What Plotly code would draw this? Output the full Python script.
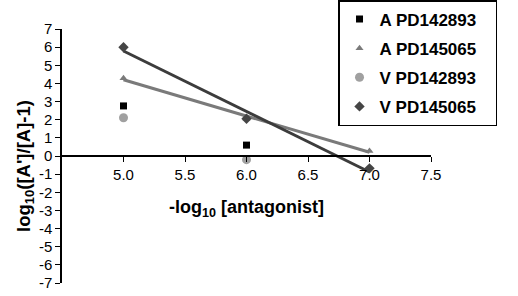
import numpy as np
import plotly.graph_objects as go

x_vals = [5.0, 6.0, 7.0]
a_pd142893_x = [5.0, 6.0]
a_pd142893_y = [2.76, 0.6]
v_pd142893_x = [5.0, 6.0]
v_pd142893_y = [2.11, -0.2]
a_pd145065_y = [4.28, 2.05, 0.28]
v_pd145065_y = [5.99, 2.05, -0.68]

y_ticks = list(range(-7, 8))
x_ticks = [5.0, 5.5, 6.0, 6.5, 7.0, 7.5]

FONT = "Arial, Liberation Sans, sans-serif"
PAD = "&nbsp;&nbsp;&nbsp;"

def fit(xs, ys):
    m, b = np.polyfit(xs, ys, 1)
    return [m * x + b for x in xs]

fig = go.Figure()

# regression lines
fig.add_trace(go.Scatter(x=x_vals, y=fit(x_vals, a_pd145065_y), mode="lines",
                         line=dict(color="#7a7a7a", width=3), showlegend=False, hoverinfo="skip"))
fig.add_trace(go.Scatter(x=x_vals, y=fit(x_vals, v_pd145065_y), mode="lines",
                         line=dict(color="#3c3c3c", width=3), showlegend=False, hoverinfo="skip"))

fig.add_trace(go.Scatter(x=a_pd142893_x, y=a_pd142893_y, mode="markers", name="<b>A PD142893</b>" + PAD,
                         legendgroup="1",
                         marker=dict(symbol="square", size=7, color="#000000")))
fig.add_trace(go.Scatter(x=x_vals, y=a_pd145065_y, mode="markers", name="<b>A PD145065</b>" + PAD,
                         legendgroup="2",
                         marker=dict(symbol="triangle-up", size=7, color="#7a7a7a")))
fig.add_trace(go.Scatter(x=v_pd142893_x, y=v_pd142893_y, mode="markers", name="<b>V PD142893</b>" + PAD,
                         legendgroup="3",
                         marker=dict(symbol="circle", size=9, color="#a0a0a0")))
fig.add_trace(go.Scatter(x=x_vals, y=v_pd145065_y, mode="markers", name="<b>V PD145065</b>" + PAD,
                         legendgroup="4",
                         marker=dict(symbol="diamond", size=8, color="#454545")))

fig.update_layout(
    width=518, height=296,
    margin=dict(l=62, r=87, t=29, b=13, autoexpand=False),
    paper_bgcolor="white", plot_bgcolor="white",
    font=dict(family=FONT, color="#000000", size=15),
    showlegend=True,
    legend=dict(x=0.748, y=1.114, xanchor="left", yanchor="top",
                bordercolor="#000000", borderwidth=1.5,
                font=dict(family=FONT, size=17, color="#000"),
                tracegroupgap=4, itemwidth=30),
    xaxis=dict(range=[4.5, 7.5], anchor="free", position=0.5,
               tickvals=x_ticks, tickformat=".1f",
               ticks="outside", ticklen=5, tickcolor="#000",
               showline=True, linecolor="#000", linewidth=1.5,
               showgrid=False, zeroline=False,
               tickfont=dict(size=15)),
    yaxis=dict(range=[-7, 7], tickvals=y_ticks, ticktext=[str(v) for v in y_ticks],
               ticks="outside", ticklen=5, tickcolor="#000",
               showline=True, linecolor="#000", linewidth=1.5,
               showgrid=False, zeroline=False,
               tickfont=dict(size=15)),
    annotations=[
        dict(text="<b>-log<sub>10</sub> [antagonist]</b>", xref="paper", yref="paper",
             x=0.5, y=0.295, xanchor="center", yanchor="middle", showarrow=False,
             font=dict(size=18)),
        dict(text="<b>log<sub>10</sub>([A']/[A]-1)</b>", xref="paper", yref="paper",
             x=-0.1003, y=0.461, xanchor="center", yanchor="middle", showarrow=False,
             textangle=-90, font=dict(size=18.5)),
    ],
)

fig.write_html("out.html", config={"displayModeBar": False},
               post_script="document.body.style.margin='0';")
